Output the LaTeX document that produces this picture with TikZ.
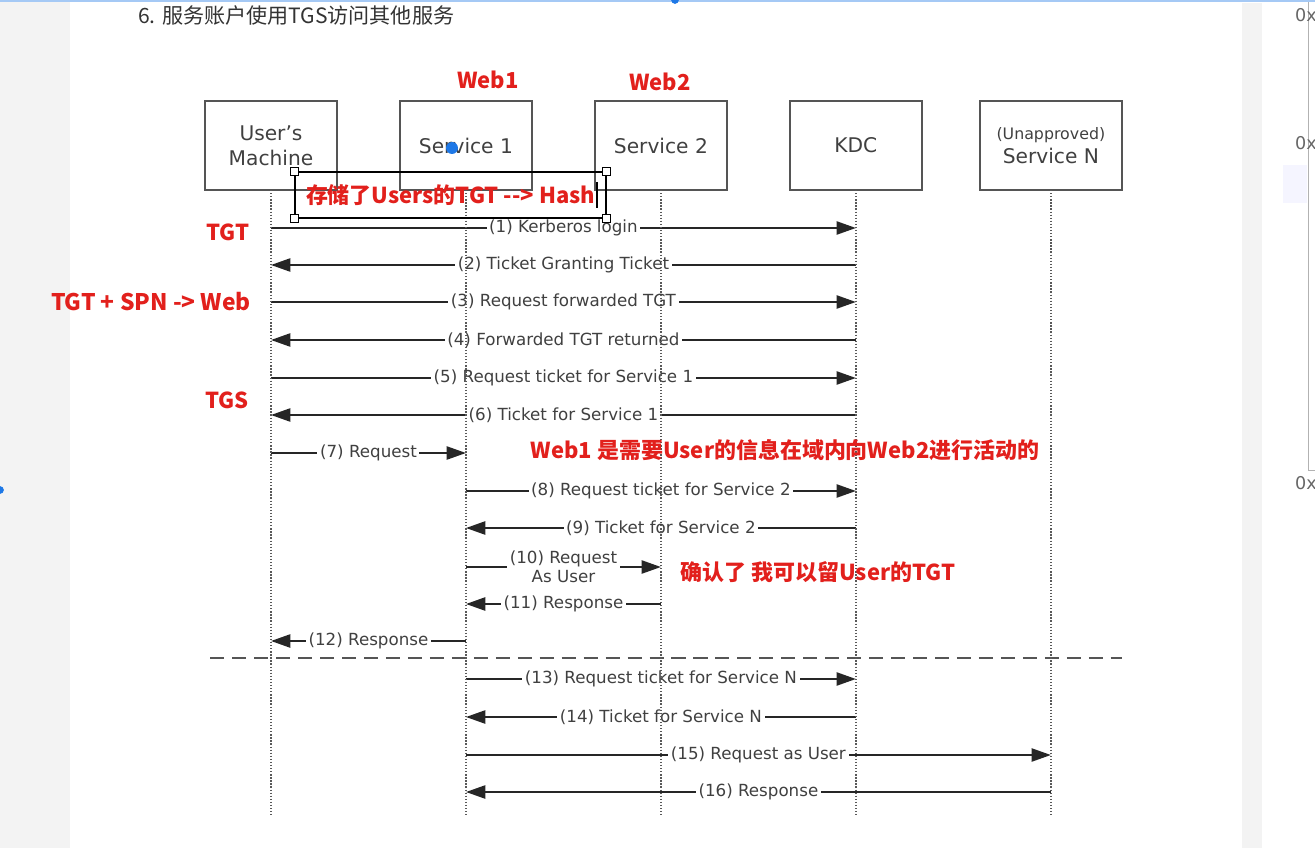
\documentclass[tikz,border=0pt]{standalone}
\usepackage{fontspec}
\setmainfont{DejaVu Sans}
\newfontfamily\cjk{Noto Sans CJK SC}
\usetikzlibrary{arrows.meta, positioning}
\definecolor{redmark}{RGB}{226,32,28}
\definecolor{boxline}{RGB}{85,85,85}
\definecolor{pagegray}{RGB}{243,243,243}
\definecolor{selblue}{RGB}{30,120,230}
\tikzset{
    actor/.style={rectangle, draw=boxline, line width=1.2pt, minimum width=2.64cm, minimum height=1.78cm, outer sep=0pt, align=center, text=black!75, font=\fontsize{11.5}{14}\selectfont},
    life/.style={densely dotted, black!65, line width=0.75pt},
    msg/.style={-{Triangle[length=11pt, width=7.5pt]}, line width=1.1pt, black!85},
    lbl/.style={fill=white, inner sep=1.5pt, text=black!75, font=\fontsize{9.5}{11}\selectfont, align=center},
    nota/.style={text=redmark, font=\cjk\bfseries\fontsize{12.5}{15}\selectfont},
    grip/.style={draw=black, fill=white, line width=0.6pt, minimum size=4.5pt, inner sep=0pt}
}

\begin{document}
\begin{tikzpicture}[x=0.02cm, y=-0.02cm, node distance=1.26cm]
    \useasboundingbox (0,0) rectangle (1315,848);
    \fill[pagegray] (0,0) rectangle (70,848);
    \fill[pagegray] (1242,3) rectangle (1262,848);
    \fill[blue!4] (1283,165) rectangle (1307,203);
    \draw[black!30] (1308,0) -- (1308,470) -- (1315,470);
    \draw[selblue!40, line width=1.5pt] (0,1) -- (1315,1);
    \fill[selblue] (675,0) circle (2.2pt);
    \fill[selblue] (0,490) circle (2.2pt);
    \foreach \y in {15,143,483}
      \node[anchor=west, text=black!60, font=\fontsize{10}{12}\selectfont] at (1289,\y) {0x};

    \node[anchor=west, text=black!80, font=\cjk\fontsize{12}{14}\selectfont] (title) at (132,16) {6. 服务账户使用TGS访问其他服务};

    \node[actor] (user) at (271,145.5) {User's\\Machine};
    \node[actor, right=of user] (svc1) {Service 1};
    \node[actor, right=of svc1] (svc2) {Service 2};
    \node[actor, right=of svc2] (kdc) {KDC};
    \node[actor, right=1.16cm of kdc, minimum width=2.84cm] (svcn) {{\fontsize{9}{11}\selectfont (Unapproved)}\\Service N};

    \node[nota] (web1) at (488,80) {Web1};
    \node[nota] (web2) at (660,82) {Web2};

    \draw[msg] (user |- 0,228) -- node[lbl] {(1) Kerberos login} (kdc |- 0,228);
    \draw[msg] (kdc |- 0,265) -- node[lbl] {(2) Ticket Granting Ticket} (user |- 0,265);
    \draw[msg] (user |- 0,302) -- node[lbl] {(3) Request forwarded TGT} (kdc |- 0,302);
    \draw[msg] (kdc |- 0,340) -- node[lbl] {(4) Forwarded TGT returned} (user |- 0,340);
    \draw[msg] (user |- 0,378) -- node[lbl] {(5) Request ticket for Service 1} (kdc |- 0,378);
    \draw[msg] (kdc |- 0,415) -- node[lbl] {(6) Ticket for Service 1} (user |- 0,415);
    \draw[msg] (user |- 0,453) -- node[lbl] {(7) Request} (svc1 |- 0,453);
    \draw[msg] (svc1 |- 0,491) -- node[lbl] {(8) Request ticket for Service 2} (kdc |- 0,491);
    \draw[msg] (kdc |- 0,528) -- node[lbl] {(9) Ticket for Service 2} (svc1 |- 0,528);
    \draw[msg] (svc1 |- 0,567) -- node[lbl] {(10) Request\\As User} (svc2 |- 0,567);
    \draw[msg] (svc2 |- 0,604) -- node[lbl] {(11) Response} (svc1 |- 0,604);
    \draw[msg] (svc1 |- 0,641) -- node[lbl] {(12) Response} (user |- 0,641);
    \draw[dashed, dash pattern=on 8pt off 4.5pt, line width=1.1pt, boxline] ([xshift=3pt]user.west |- 0,658) -- (svcn.east |- 0,658);
    \draw[msg] (svc1 |- 0,679) -- node[lbl] {(13) Request ticket for Service N} (kdc |- 0,679);
    \draw[msg] (kdc |- 0,717) -- node[lbl] {(14) Ticket for Service N} (svc1 |- 0,717);
    \draw[msg] (svc1 |- 0,755) -- node[lbl] {(15) Request as User} (svcn |- 0,755);
    \draw[msg] (svcn |- 0,792) -- node[lbl] {(16) Response} (svc1 |- 0,792);

    \foreach \n in {user,svc1,svc2,kdc,svcn}
      \draw[life] (\n.south) -- ++(0,625);

    \node[nota, draw=black, line width=0.7pt, minimum width=6.22cm, minimum height=0.92cm, inner sep=0pt] (memo) at (450.5,195) {存储了Users的TGT -{}-> Hash};
    \foreach \c in {north west, north east, south west, south east}
      \node[grip] at (memo.\c) {};
    \draw[line width=1pt] (597,182) -- (597,208);
    \fill[selblue] (452,148) circle (3.4pt);

    \node[nota] (tgt) at (228,232) {TGT};
    \node[nota, font=\cjk\bfseries\fontsize{13}{15}\selectfont] (spn) at (151,302) {TGT + SPN -> Web};
    \node[nota] (tgs) at (227,400) {TGS};
    \node[nota] (deleg) at (785,450) {Web1 是需要User的信息在域内向Web2进行活动的};
    \node[nota] (keep) at (818,572) {确认了 我可以留User的TGT};
\end{tikzpicture}
\end{document}
